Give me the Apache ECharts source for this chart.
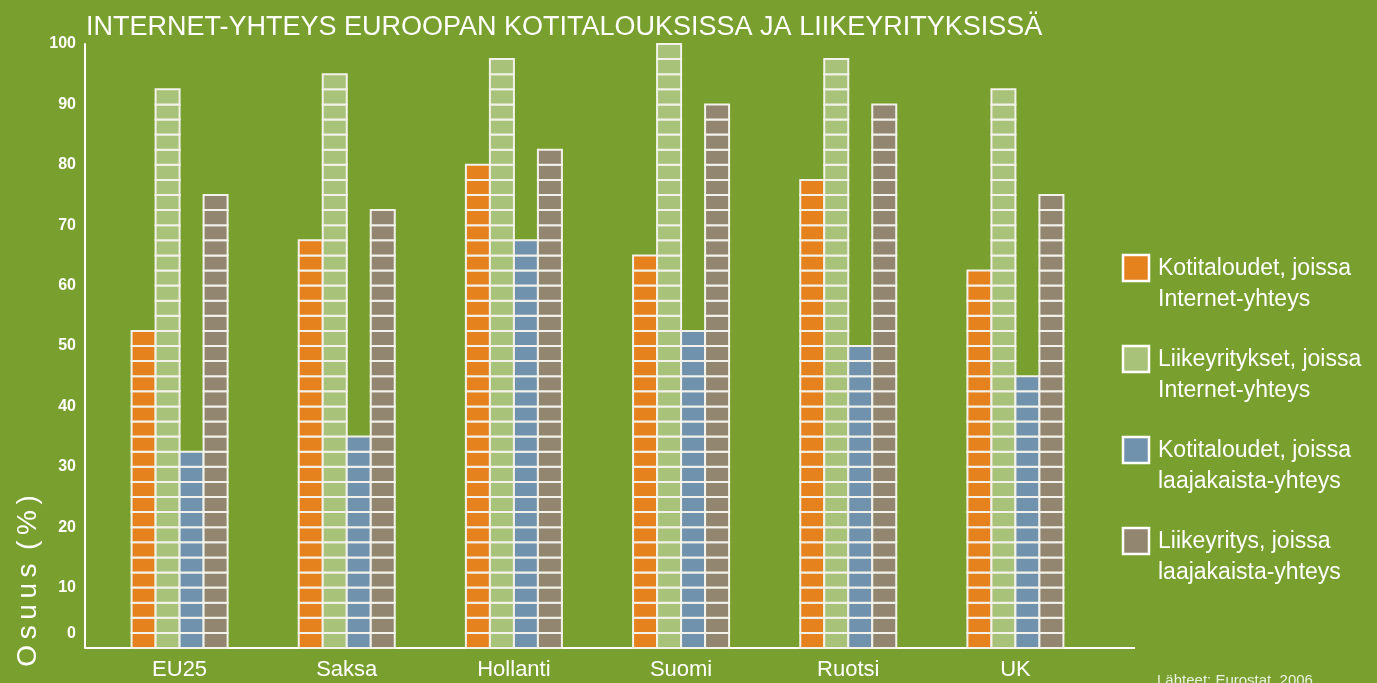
<!DOCTYPE html>
<html>
<head>
<meta charset="utf-8">
<script src="https://cdn.jsdelivr.net/npm/echarts@6/dist/echarts.min.js"></script>
<style>
  html, body { margin: 0; padding: 0; background: #79a02f; }
  #chart { width: 1377px; height: 683px; }
</style>
</head>
<body>
<div id="chart"></div>
<script>
const categories = ['EU25', 'Saksa', 'Hollanti', 'Suomi', 'Ruotsi', 'UK'];
const householdsInternet = [52.5, 67.5, 80, 65, 77.5, 62.5];
const businessInternet = [92.5, 95, 97.5, 100, 97.5, 92.5];
const householdsBroadband = [32.5, 35, 67.5, 52.5, 50, 45];
const businessBroadband = [75, 72.5, 82.5, 90, 90, 75];

const seriesNames = [
  'Kotitaloudet, joissa\nInternet-yhteys',
  'Liikeyritykset, joissa\nInternet-yhteys',
  'Kotitaloudet, joissa\nlaajakaista-yhteys',
  'Liikeyritys, joissa\nlaajakaista-yhteys'
];
const colors = ['#e6821e', '#a9c27a', '#7192ad', '#938670'];

const font = '"Liberation Sans", Arial, sans-serif';
const chart = echarts.init(document.getElementById('chart'));

// each bar is a stack of cells, one cell per 2.5 units
const cellUnits = 2.5;
const barW = 24;

function renderCells(params, api) {
  const cat = api.value(0);
  const v = api.value(1);
  const center = api.coord([cat, 0])[0];
  const x = center - barW * 2 + params.seriesIndex * barW;
  const n = Math.round(v / cellUnits);
  const children = [];
  for (let k = 0; k < n; k++) {
    const y0 = api.coord([cat, k * cellUnits])[1];
    const y1 = api.coord([cat, (k + 1) * cellUnits])[1];
    children.push({
      type: 'rect',
      shape: { x: x, y: y1, width: barW, height: y0 - y1 },
      style: { fill: colors[params.seriesIndex], stroke: '#f2f2ea', lineWidth: 2 }
    });
  }
  return { type: 'group', children: children };
}

const series = [householdsInternet, businessInternet, householdsBroadband, businessBroadband]
  .map((data, i) => ({
    name: seriesNames[i],
    type: 'custom',
    renderItem: renderCells,
    encode: { x: 0, y: 1 },
    data: data.map((v, j) => [j, v])
  }));

const legendItems = seriesNames.map((name, i) => {
  const top = 255 + i * 91;
  return [
    {
      type: 'rect',
      shape: { x: 1123, y: top, width: 26, height: 26 },
      style: { fill: colors[i], stroke: '#fff', lineWidth: 2.5 }
    },
    {
      type: 'text',
      x: 1158,
      y: top + 13 - 15,
      style: {
        text: name,
        fill: '#fff',
        font: '23px ' + font,
        lineHeight: 31,
        verticalAlign: 'top'
      }
    }
  ];
}).flat();

chart.setOption({
  backgroundColor: '#79a02f',
  animation: false,
  grid: { left: 96, right: 278, top: 44, bottom: 35 },
  xAxis: {
    type: 'category',
    data: categories,
    axisLine: { show: false },
    axisTick: { show: false },
    axisLabel: {
      color: '#fff',
      fontFamily: font,
      fontSize: 22,
      margin: 11
    }
  },
  yAxis: {
    type: 'value',
    min: 0,
    max: 100,
    interval: 10,
    offset: 11,
    splitLine: { show: false },
    axisLine: { show: true, lineStyle: { color: '#fff', width: 2 } },
    axisTick: { show: false },
    axisLabel: {
      color: '#fff',
      fontFamily: font,
      fontWeight: 'bold',
      fontSize: 16,
      margin: 9,
      formatter: v => v === 0 ? '{z|0}' : String(v),
      rich: {
        z: { color: '#fff', fontFamily: font, fontWeight: 'bold', fontSize: 16, padding: [0, 0, 28, 0] }
      }
    }
  },
  series: series,
  graphic: [
    {
      type: 'text',
      left: 86,
      top: 14,
      style: {
        text: 'INTERNET-YHTEYS EUROOPAN KOTITALOUKSISSA JA LIIKEYRITYKSISSÄ',
        fill: '#fff',
        font: '27px ' + font
      }
    },
    {
      type: 'text',
      x: 28,
      y: 581,
      rotation: Math.PI / 2,
      style: {
        text: 'O\u2009s\u2009u\u2009u\u2009s\u2009 (\u2009%\u2009)',
        fill: '#fff',
        font: '28px ' + font,
        align: 'center',
        verticalAlign: 'middle'
      }
    },
    {
      type: 'line',
      shape: { x1: 85, y1: 648, x2: 1135, y2: 648 },
      style: { stroke: '#fff', lineWidth: 2 }
    },
    {
      type: 'text',
      x: 1157,
      y: 673,
      style: {
        text: 'Lähteet: Eurostat, 2006',
        fill: 'rgba(255,255,255,0.85)',
        font: '15px ' + font
      }
    }
  ].concat(legendItems)
});
</script>
</body>
</html>
